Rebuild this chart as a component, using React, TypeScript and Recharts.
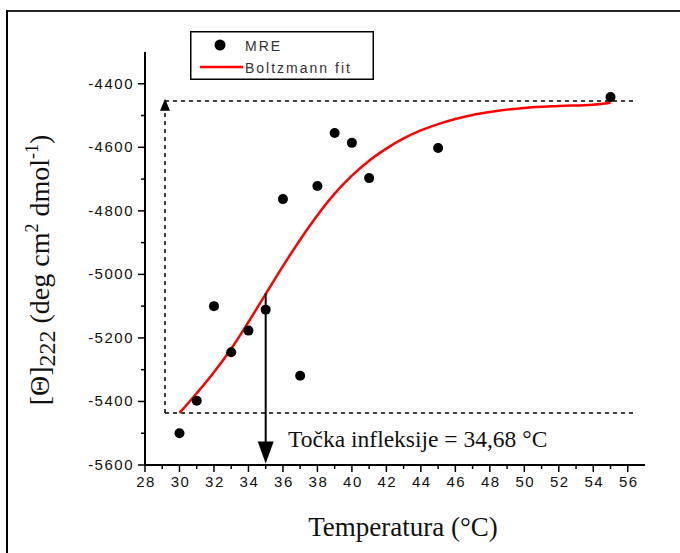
import * as React from "react";
import {ComposedChart, Line, Scatter, XAxis, YAxis, ReferenceLine, ReferenceDot, Legend, Label} from 'recharts';

// measured MRE points
const mreTemp = [30, 31, 32, 33, 34, 35, 36, 37, 38, 39, 40, 41, 45, 55];
const mreValue = [-5500, -5398, -5100, -5245, -5177, -5111, -4763, -5319, -4722, -4555, -4586, -4697, -4602, -4442];

// Boltzmann fit
const fitTemp = [30, 31, 32, 33, 34, 35, 36, 37, 38, 39, 40, 41, 42, 43, 44, 45, 46, 47, 48, 50, 52, 54, 55];
const fitValue = [-5436, -5374, -5308, -5234, -5150, -5062, -4974, -4891, -4814, -4746, -4689, -4642, -4604, -4572, -4547, -4527, -4511, -4498, -4489, -4476, -4470, -4466, -4460];

const xTicks = [28, 29, 30, 31, 32, 33, 34, 35, 36, 37, 38, 39, 40, 41, 42, 43, 44, 45, 46, 47, 48, 49, 50, 51, 52, 53, 54, 55, 56];
const yTicks = [-5600, -5500, -5400, -5300, -5200, -5100, -5000, -4900, -4800, -4700, -4600, -4500, -4400];

const legendLabels = ['MRE', 'Boltzmann fit'];

// guide lines: plateaus and inflection
const upperLevel = -4454;
const lowerLevel = -5436;
const guideLeft = 29.16;
const guideRight = 56.5;
const inflectionT = 35;
const inflectionTop = -5060;
const inflectionText = 'Točka infleksije = 34,68 °C';

const mreData = mreTemp.map((t, i) => ({t, v: mreValue[i]}));
const fitData = fitTemp.map((t, i) => ({t, v: fitValue[i]}));

const tickFont = {fontFamily: '"Liberation Sans", Arial, sans-serif', fontSize: 15, fill: '#111', letterSpacing: 1.5};
const serif = '"Liberation Serif", "Times New Roman", serif';

const XTick = ({x, y, payload}: any) => {
    const major = payload.value % 2 === 0;
    return (
        <g>
            <line x1={x} x2={x} y1={y} y2={y + (major ? 7 : 4)} stroke="#000" strokeWidth={1.5}/>
            {major && <text x={x + 1} y={y + 22} textAnchor="middle" {...tickFont}>{payload.value}</text>}
        </g>
    );
};

const YTick = ({x, y, payload}: any) => {
    const major = payload.value % 200 === 0;
    return (
        <g>
            <line x1={x - (major ? 7 : 4)} x2={x} y1={y} y2={y} stroke="#000" strokeWidth={1.5}/>
            {major && <text x={x - 11} y={y + 5} textAnchor="end" {...tickFont}>{payload.value}</text>}
        </g>
    );
};

const LegendBox = () => (
    <svg width={184} height={49} style={{display: 'block'}}>
        <rect x={0.75} y={0.75} width={182.5} height={47.5} fill="#fff" stroke="#000" strokeWidth={1.5}/>
        <circle cx={30} cy={14} r={5.5} fill="#000"/>
        <line x1={10} x2={53} y1={36} y2={36} stroke="#ff0000" strokeWidth={2.5}/>
        <text x={55} y={20} fontFamily='"Liberation Sans", Arial' fontSize={14} fill="#333" letterSpacing={2}>{legendLabels[0]}</text>
        <text x={55} y={42} fontFamily='"Liberation Sans", Arial' fontSize={14} fill="#333" letterSpacing={2}>{legendLabels[1]}</text>
    </svg>
);

const TriUp = ({cx, cy}: any) => (
    <polygon points={`${cx},${cy - 6} ${cx - 5},${cy + 6} ${cx + 5},${cy + 6}`} fill="#000"/>
);

const ArrowHead = ({cx, cy}: any) => (
    <polygon points={`${cx},${cy} ${cx - 8},${cy - 22} ${cx + 8},${cy - 22}`} fill="#000"/>
);

const AnnText = ({cx, cy}: any) => (
    <text x={cx} y={cy} fontFamily={serif} fontSize={23.5} fill="#111">{inflectionText}</text>
);

const Dot = ({cx, cy}: any) => <circle cx={cx} cy={cy} r={5} fill="#000"/>;

export default function App() {
    return (
        <div style={{position: 'absolute', left: 0, top: 0, width: 680, height: 553, background: '#fff'}}>
            <div style={{position: 'absolute', left: 6, top: 10, width: 674, height: 2, background: '#222'}}/>
            <div style={{position: 'absolute', left: 6, top: 10, width: 2, height: 543, background: '#000'}}/>
            <ComposedChart width={680} height={553} margin={{top: 52, right: 35, left: 85, bottom: 58}}>
                <XAxis dataKey="t" type="number" domain={[28, 57]} ticks={xTicks} interval={0}
                       tickSize={0} tickMargin={0} tick={<XTick/>} height={30}
                       axisLine={{stroke: '#000', strokeWidth: 2}} tickLine={false}>
                    <Label content={() => (
                        <text x={403} y={536} textAnchor="middle" fontFamily={serif}
                              fontSize={27} fill="#111">Temperatura (°C)</text>
                    )}/>
                </XAxis>
                <YAxis dataKey="v" type="number" domain={[-5600, -4300]} ticks={yTicks} interval={0}
                       tickSize={0} tickMargin={0} tick={<YTick/>} width={60}
                       axisLine={{stroke: '#000', strokeWidth: 2}} tickLine={false}>
                    <Label content={() => (
                        <text x={49} y={270} transform="rotate(-90, 49, 270)" textAnchor="middle"
                              fontFamily={serif} fontSize={28} fill="#111">
                            [Θ]<tspan dy={6} fontSize={24}>222</tspan>
                            <tspan dy={-6}> (deg cm</tspan>
                            <tspan dy={-11} fontSize={18}>2</tspan>
                            <tspan dy={11}> dmol</tspan>
                            <tspan dy={-11} fontSize={18}>-1</tspan>
                            <tspan dy={11}>)</tspan>
                        </text>
                    )}/>
                </YAxis>
                <Legend layout="vertical" align="center" verticalAlign="middle"
                        wrapperStyle={{left: 190, top: 31, width: 184, height: 49}} content={() => <LegendBox/>}/>
                <ReferenceLine segment={[{x: guideLeft, y: upperLevel}, {x: guideRight, y: upperLevel}]}
                               stroke="#000" strokeWidth={1.5} strokeDasharray="4 4" ifOverflow="visible"/>
                <ReferenceLine segment={[{x: guideLeft, y: lowerLevel}, {x: guideRight, y: lowerLevel}]}
                               stroke="#000" strokeWidth={1.5} strokeDasharray="4 4" ifOverflow="visible"/>
                <ReferenceLine segment={[{x: guideLeft, y: lowerLevel}, {x: guideLeft, y: upperLevel}]}
                               stroke="#000" strokeWidth={1.5} strokeDasharray="4 4" ifOverflow="visible"/>
                <ReferenceDot x={guideLeft} y={upperLevel - 12} shape={<TriUp/>} ifOverflow="visible"/>
                <Line data={fitData} dataKey="v" type="monotone" stroke="#ff0000" strokeWidth={2.5}
                      dot={false} activeDot={false} isAnimationActive={false} name={legendLabels[1]}/>
                <ReferenceLine segment={[{x: inflectionT, y: inflectionTop}, {x: inflectionT, y: -5560}]}
                               stroke="#000" strokeWidth={2} ifOverflow="visible"/>
                <ReferenceDot x={inflectionT} y={-5595} shape={<ArrowHead/>} ifOverflow="visible"/>
                <ReferenceDot x={36.3} y={-5543} shape={<AnnText/>} ifOverflow="visible"/>
                <Scatter data={mreData} dataKey="v" fill="#000" shape={<Dot/>} isAnimationActive={false} name={legendLabels[0]}/>
            </ComposedChart>
        </div>
    );
}
